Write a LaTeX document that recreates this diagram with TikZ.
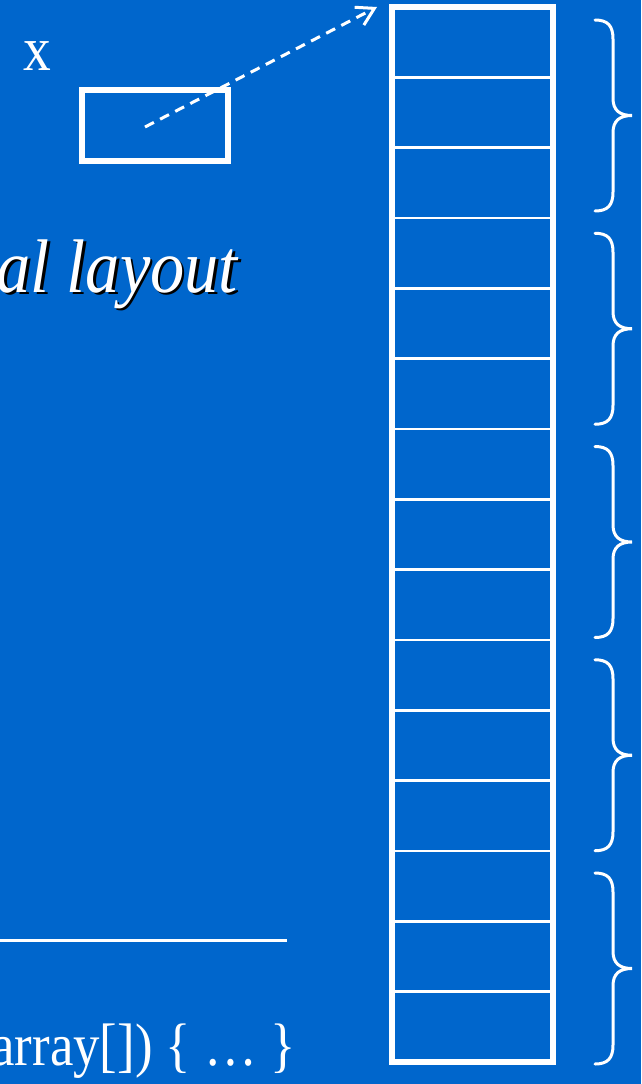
\documentclass[tikz,border=0pt]{standalone}
\usepackage{fontspec}
\setmainfont{Liberation Serif}
\usetikzlibrary{arrows.meta,calc}
\definecolor{slideblue}{RGB}{0,102,204}

\begin{document}
\begin{tikzpicture}[x=1pt, y=-1pt, white,
    slot/.style={draw=white, inner sep=0pt, outer sep=0pt},
    bigfont/.style={font=\fontsize{60}{72}\selectfont, inner sep=0pt},
    ptrline/.style={line width=3pt, dash pattern=on 10pt off 7pt, -{Straight Barb[length=17pt, width=20pt]}},
    bracepen/.style={line width=3pt, line cap=round}]
  \fill[slideblue] (0,0) rectangle (641,1084);
  \clip (0,0) rectangle (641,1084);
  % memory column, 15 words
  \node[slot, line width=6pt, minimum width=161pt, minimum height=1055pt] (mem) at (472.5,534.5) {};
  \foreach \k in {1,...,14}
    \draw[line width=2.5pt] ($(mem.north west)!{\k/15}!(mem.south west)$) -- ($(mem.north east)!{\k/15}!(mem.south east)$);
  % one brace per 3 words
  \foreach \k in {0,...,4} {
    \pgfmathsetmacro\tp{20+213.25*\k}
    \pgfmathsetmacro\bt{\tp+191}
    \pgfmathsetmacro\md{(\tp+\bt)/2}
    \draw[bracepen] (595,\tp) .. controls (608,\tp) and (613,\tp+6) .. (613,\tp+19) -- (613,\md-17)
      .. controls (613,\md-5) and (620,\md) .. (632,\md) .. controls (620,\md) and (613,\md+5) .. (613,\md+17)
      -- (613,\bt-19) .. controls (613,\bt-6) and (608,\bt) .. (595,\bt);
  }
  % the variable
  \node[bigfont, font=\fontsize{63}{72}\selectfont] (xlab) at (37.5,56.5) {\scalebox{.88}[1]{x}};
  \node[slot, line width=5.5pt, minimum width=146pt, minimum height=71pt] (xbox) at (155,125.5) {};
  \draw[ptrline] ([xshift=-10pt, yshift=-1.5pt]xbox.center) -- ([xshift=-15pt]mem.north west);
  % heading, shadowed
  \node[bigfont, font=\fontsize{76}{90}\selectfont\itshape, text=black, anchor=base east] (headshadow) at (240.5,294.5) {\scalebox{.9}[1]{al layout}};
  \node[bigfont, font=\fontsize{76}{90}\selectfont\itshape, anchor=base east] (head) at (238,292) {\scalebox{.9}[1]{al layout}};
  % code line
  \draw[line width=3pt] (0,940) -- (287,940);
  \node[bigfont, anchor=base east] (code) at (296,1065) {\scalebox{.88}[1]{array[]) \{ … \}}};
\end{tikzpicture}
\end{document}
